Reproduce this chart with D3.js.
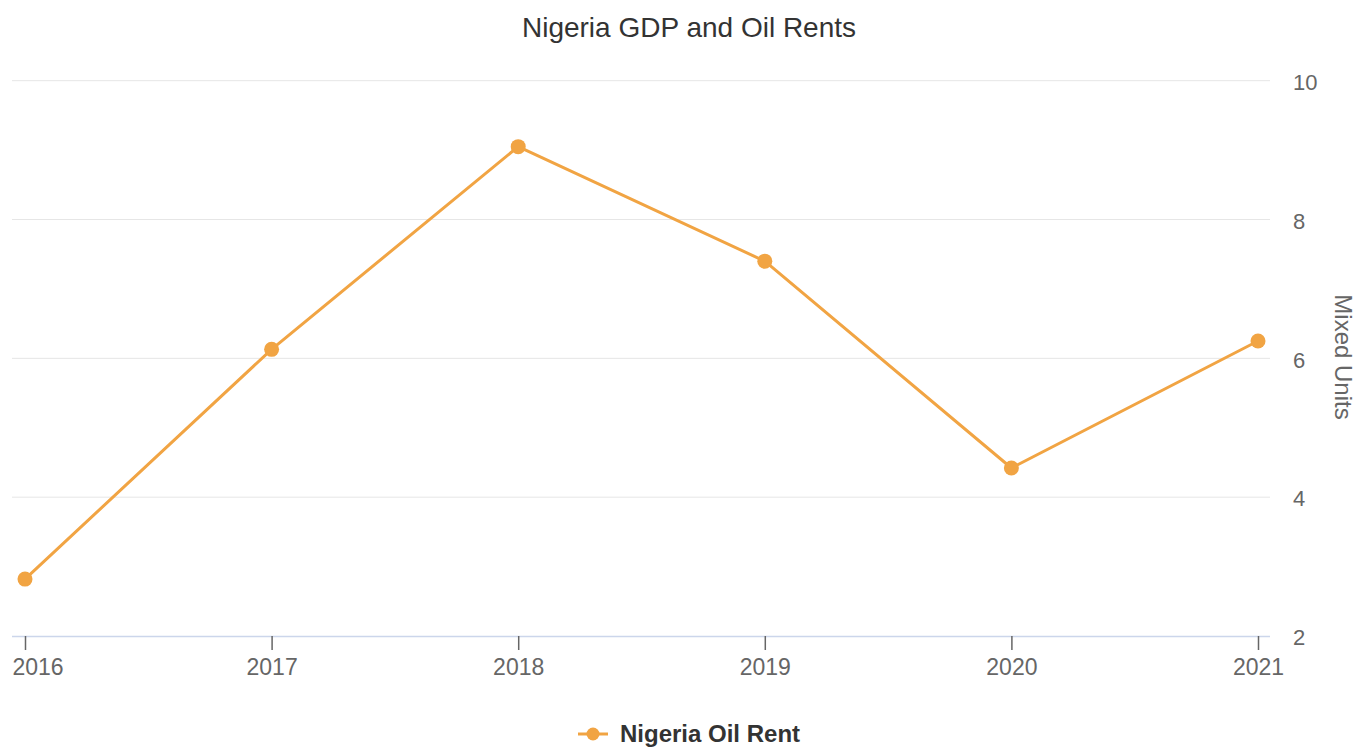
<!DOCTYPE html>
<html>
<head>
<meta charset="utf-8">
<script src="https://cdn.jsdelivr.net/npm/d3@7"></script>
<style>
  html, body { margin: 0; padding: 0; background: #ffffff; }
  svg { display: block; font-family: "Liberation Sans", Arial, Helvetica, sans-serif; }
</style>
</head>
<body>
<svg id="chart" width="1357" height="748"></svg>
<script>
// Nigeria oil rents, by year
const years = ["2016", "2017", "2018", "2019", "2020", "2021"];
const oilRent = [2.82, 6.13, 9.05, 7.40, 4.42, 6.25];
const yTicks = [2, 4, 6, 8, 10];
const seriesName = "Nigeria Oil Rent";
const chartTitle = "Nigeria GDP and Oil Rents";
const yAxisTitle = "Mixed Units";

const W = 1357, H = 748;
const plot = { left: 12, right: 1270, top: 80.7, bottom: 636 };
const orange = "#f1a443";

const svg = d3.select("#chart");

const x = d3.scalePoint()
  .domain(years)
  .range([plot.left + 13, plot.right - 12]);

const y = d3.scaleLinear()
  .domain([2, 10])
  .range([plot.bottom, plot.top]);

// horizontal gridlines
svg.append("g")
  .selectAll("line")
  .data(yTicks.filter(d => d !== 2))
  .join("line")
  .attr("x1", plot.left).attr("x2", plot.right)
  .attr("y1", d => y(d)).attr("y2", d => y(d))
  .attr("stroke", "#e6e6e6").attr("stroke-width", 1);

// right-hand value axis
const yAxis = svg.append("g")
  .attr("transform", `translate(${plot.right},0)`)
  .call(d3.axisRight(y).tickValues(yTicks).tickSize(0).tickPadding(23).tickFormat(d3.format("d")));
yAxis.select(".domain").remove();
yAxis.selectAll("text")
  .attr("fill", "#666666")
  .attr("font-size", 22)
  .attr("dy", "0.4em");

// bottom category axis
const xAxis = svg.append("g")
  .attr("transform", `translate(0,${plot.bottom})`)
  .call(d3.axisBottom(x).tickSizeOuter(0).tickSize(14).tickPadding(9));
xAxis.select(".domain")
  .attr("d", `M${plot.left},0.5H${plot.right}`)
  .attr("stroke", "#ccd6eb").attr("stroke-width", 1.5);
xAxis.selectAll(".tick line").attr("stroke", "#666666").attr("stroke-width", 1.5);
xAxis.selectAll("text")
  .attr("fill", "#666666")
  .attr("font-size", 23);
// keep the first label inside the chart's left edge
xAxis.selectAll(".tick text")
  .filter(d => d === years[0])
  .attr("text-anchor", "start")
  .attr("x", plot.left - x(years[0]));

// series line and markers
const line = d3.line()
  .x((d, i) => x(years[i]))
  .y(d => y(d));

svg.append("path")
  .datum(oilRent)
  .attr("d", line)
  .attr("fill", "none")
  .attr("stroke", orange)
  .attr("stroke-width", 3)
  .attr("stroke-linejoin", "round");

svg.append("g")
  .selectAll("circle")
  .data(oilRent)
  .join("circle")
  .attr("cx", (d, i) => x(years[i]))
  .attr("cy", d => y(d))
  .attr("r", 7.5)
  .attr("fill", orange);

// title
svg.append("text")
  .attr("x", 689).attr("y", 37)
  .attr("text-anchor", "middle")
  .attr("fill", "#333333")
  .attr("font-size", 28)
  .text(chartTitle);

// axis title, rotated
svg.append("text")
  .attr("transform", `translate(1335,357) rotate(90)`)
  .attr("text-anchor", "middle")
  .attr("fill", "#666666")
  .attr("font-size", 24)
  .text(yAxisTitle);

// legend
const legend = svg.append("g").attr("transform", "translate(578,734)");
legend.append("line")
  .attr("x1", 0).attr("x2", 30)
  .attr("stroke", orange).attr("stroke-width", 3);
legend.append("circle")
  .attr("cx", 15).attr("cy", 0).attr("r", 6.5)
  .attr("fill", orange);
legend.append("text")
  .attr("x", 42).attr("y", 0).attr("dy", "0.35em")
  .attr("fill", "#333333")
  .attr("font-size", 24)
  .attr("font-weight", "bold")
  .text(seriesName);
</script>
</body>
</html>
